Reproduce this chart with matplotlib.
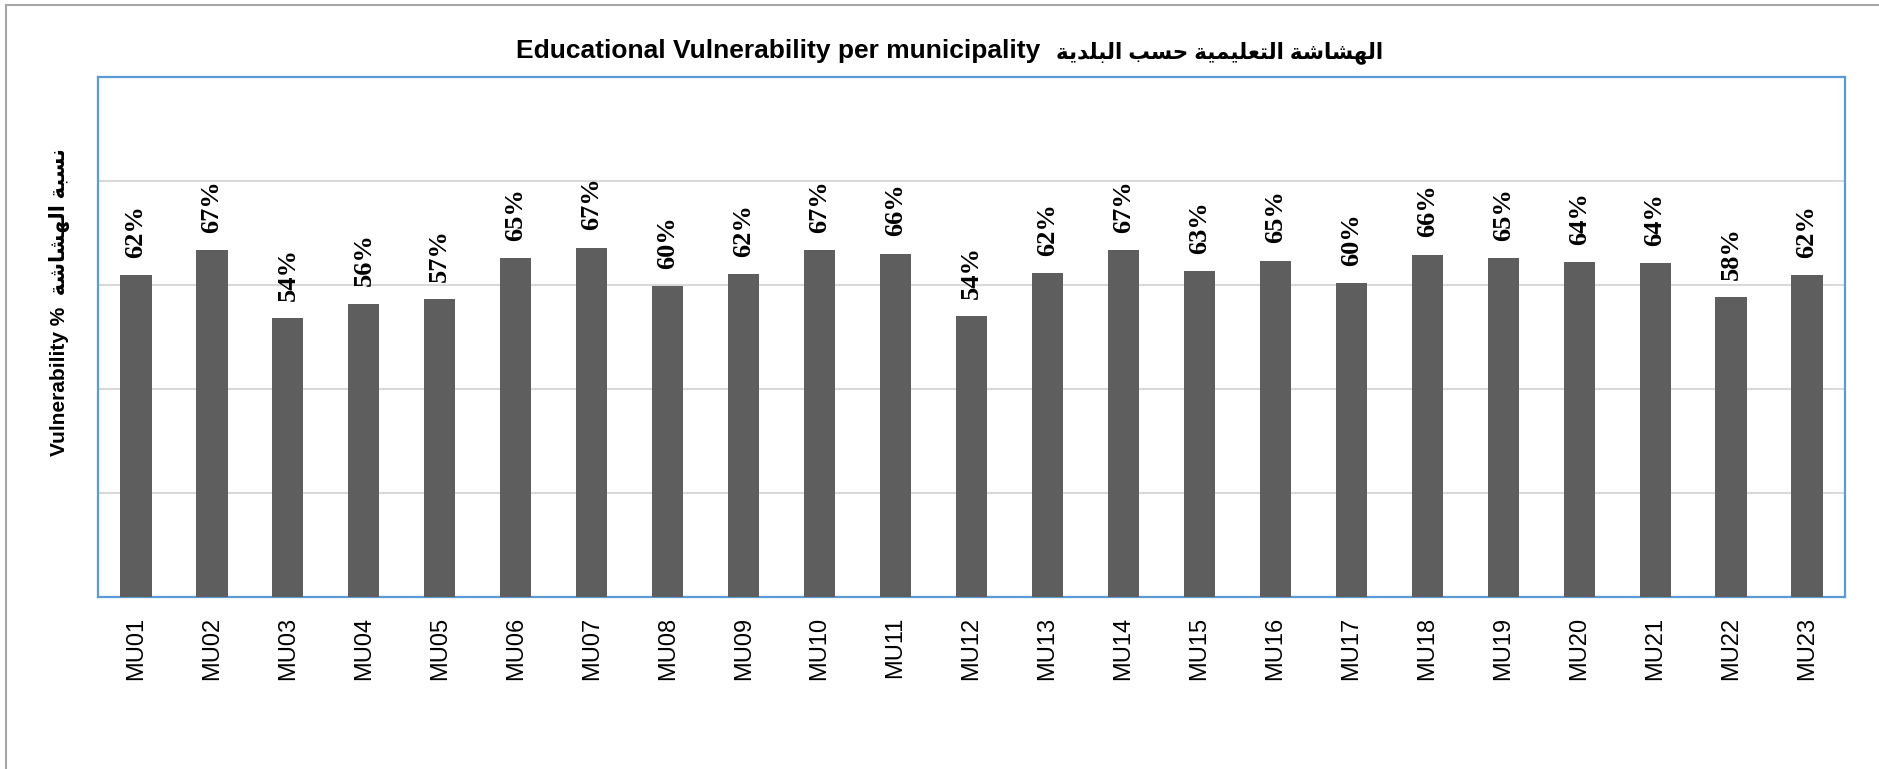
import matplotlib.pyplot as plt
import numpy as np
from matplotlib.lines import Line2D

municipalities = ["MU%02d" % i for i in range(1, 24)]
vulnerability = [61.9, 66.7, 53.6, 56.4, 57.3, 65.1, 67.2, 59.8, 62.1, 66.7, 66.0, 54.0,
                 62.3, 66.7, 62.6, 64.7, 60.4, 65.8, 65.1, 64.4, 64.2, 57.6, 61.9]
title_en = "Educational Vulnerability per municipality"
title_ar = "الهشاشة التعليمية حسب البلدية"
ylabel_en = "Vulnerability %"
ylabel_ar = "نسبة الهشاشة"

# arabic presentation forms: isolated, final, initial, medial
FORMS = {
    'ا': (0xFE8D, 0xFE8E, None, None),
    'ب': (0xFE8F, 0xFE90, 0xFE91, 0xFE92),
    'ة': (0xFE93, 0xFE94, None, None),
    'ت': (0xFE95, 0xFE96, 0xFE97, 0xFE98),
    'ح': (0xFEA1, 0xFEA2, 0xFEA3, 0xFEA4),
    'د': (0xFEA9, 0xFEAA, None, None),
    'س': (0xFEB1, 0xFEB2, 0xFEB3, 0xFEB4),
    'ش': (0xFEB5, 0xFEB6, 0xFEB7, 0xFEB8),
    'ع': (0xFEC9, 0xFECA, 0xFECB, 0xFECC),
    'ل': (0xFEDD, 0xFEDE, 0xFEDF, 0xFEE0),
    'م': (0xFEE1, 0xFEE2, 0xFEE3, 0xFEE4),
    'ن': (0xFEE5, 0xFEE6, 0xFEE7, 0xFEE8),
    'ه': (0xFEE9, 0xFEEA, 0xFEEB, 0xFEEC),
    'ي': (0xFEF1, 0xFEF2, 0xFEF3, 0xFEF4),
}


def shape_arabic(text):
    out = []
    for i, ch in enumerate(text):
        if ch not in FORMS:
            out.append(ch)
            continue
        prev = text[i - 1] if i > 0 else ''
        nxt = text[i + 1] if i + 1 < len(text) else ''
        joins_prev = prev in FORMS and FORMS[prev][2] is not None
        joins_next = nxt in FORMS and FORMS[ch][2] is not None
        iso, fin, ini, med = FORMS[ch]
        if joins_prev and joins_next:
            code = med
        elif joins_prev:
            code = fin
        elif joins_next:
            code = ini
        else:
            code = iso
        out.append(chr(code))
    # visual order
    return ''.join(out)[::-1]


fonts = ['Liberation Sans', 'DejaVu Sans']
W, H = 1879, 769

fig = plt.figure(figsize=(W / 100, H / 100), dpi=100)
ax = fig.add_axes([98 / W, 1 - 597 / H, (1845 - 98) / W, (597 - 77) / H])

x = np.arange(len(municipalities))
ax.bar(x, vulnerability, width=0.41, color='#5e5e5e', zorder=3)
for xi, v in zip(x, vulnerability):
    ax.annotate("%d%%" % round(v), (xi, v), xytext=(0, 12.5), textcoords='offset points',
                rotation=90, ha='center', va='bottom', fontsize=19,
                fontfamily='Liberation Serif', fontweight='bold')

ax.set_xlim(-0.5, len(municipalities) - 0.5)
ax.set_ylim(0, 100)
ax.set_yticks([20, 40, 60, 80])
ax.yaxis.grid(True, color='#d9d9d9', linewidth=1.5, zorder=0)
ax.tick_params(axis='y', length=0, labelleft=False)
ax.tick_params(axis='x', length=0, pad=14)
ax.set_xticks(x)
ax.set_xticklabels(municipalities, rotation=90, fontsize=17, fontfamily='Liberation Sans')
for sp in ax.spines.values():
    sp.set_color('#5b9bd5')
    sp.set_linewidth(1.6)

fig.text(60 / W, 1 - 302 / H, ylabel_en + "  " + shape_arabic(ylabel_ar), rotation=90,
         ha='center', va='center', fontsize=15, fontweight='bold', family=fonts)

# title: english part and arabic part side by side
fig.text(1040 / W, 1 - 58 / H, title_en, ha='right', va='baseline',
         fontsize=19, fontweight='bold', family=fonts)
fig.text(1056 / W, 1 - 58 / H, shape_arabic(title_ar), ha='left', va='baseline',
         fontsize=15.5, fontweight='bold', family=fonts)

# outer frame (left and top edges)
fig.add_artist(Line2D([6 / W, 6 / W], [0, 1 - 5 / H], color='#a6a6a6', lw=1.5,
                      transform=fig.transFigure))
fig.add_artist(Line2D([6 / W, 1], [1 - 5 / H, 1 - 5 / H], color='#a6a6a6', lw=1.5,
                      transform=fig.transFigure))

fig.savefig('out.png', dpi=100)
